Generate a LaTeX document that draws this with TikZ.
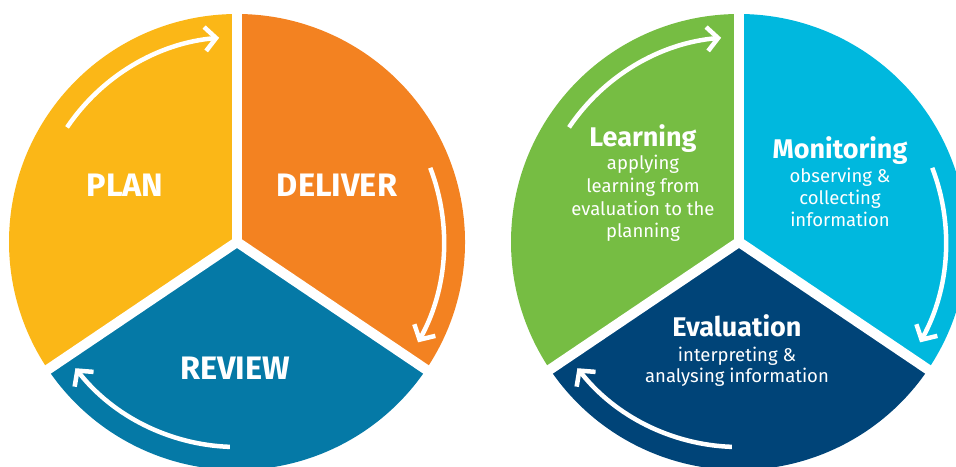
\documentclass[tikz,border=0pt]{standalone}
\usepackage{fontspec}
\setmainfont{Fira Sans}
\usetikzlibrary{arrows.meta}
\definecolor{cplan}{HTML}{FBB717}
\definecolor{cdeliver}{HTML}{F38221}
\definecolor{creview}{HTML}{0579A6}
\definecolor{clearn}{HTML}{76BD43}
\definecolor{cmonitor}{HTML}{00B8DE}
\definecolor{ceval}{HTML}{004478}
\tikzset{
  gap/.style={white, line width=10pt},
  cyc/.style={white, line width=4.5pt, -{Straight Barb[length=11pt,width=24pt,line width=4.5pt]}},
  bigtitle/.style={text=white, anchor=base, inner sep=0pt, font=\fontsize{32.5}{36}\selectfont\bfseries},
  title/.style={text=white, anchor=base, inner sep=0pt, font=\fontsize{27}{30}\selectfont\bfseries},
  sub/.style={text=white, anchor=base, inner sep=0pt, font=\fontsize{18.5}{22}\selectfont},
}
\begin{document}
\begin{tikzpicture}[x=1pt,y=1pt]
\useasboundingbox (0,0) rectangle (956,466);
\clip (0,0) rectangle (956,466);
\def\R{228}
\coordinate (c1) at (237,224);
\coordinate (c2) at (739,224);
% left circle
\fill[cplan] (c1) -- ++(90:\R) arc[start angle=90,end angle=214,radius=\R] -- cycle;
\fill[cdeliver] (c1) -- ++(-34:\R) arc[start angle=-34,end angle=90,radius=\R] -- cycle;
\fill[creview] (c1) -- ++(214:\R) arc[start angle=214,end angle=326,radius=\R] -- cycle;
\draw[gap] (c1) -- ++(90:240);
\draw[gap] (c1) -- ++(214:240);
\draw[gap] (c1) -- ++(-34:240);
\draw[cyc] ([shift={(146:205)}]c1) arc[start angle=146,end angle=95,radius=205];
\draw[cyc] ([shift={(21:207)}]c1) arc[start angle=21,end angle=-29,radius=207];
\draw[cyc] ([shift={(268:205)}]c1) arc[start angle=268,end angle=218,radius=205];
\node[bigtitle] (plan) at (125,269) {PLAN};
\node[bigtitle] (deliver) at (337,269) {DELIVER};
\node[bigtitle] (review) at (235,86) {REVIEW};
% right circle
\fill[clearn] (c2) -- ++(90:\R) arc[start angle=90,end angle=214,radius=\R] -- cycle;
\fill[cmonitor] (c2) -- ++(-34:\R) arc[start angle=-34,end angle=90,radius=\R] -- cycle;
\fill[ceval] (c2) -- ++(214:\R) arc[start angle=214,end angle=326,radius=\R] -- cycle;
\draw[gap] (c2) -- ++(90:240);
\draw[gap] (c2) -- ++(214:240);
\draw[gap] (c2) -- ++(-34:240);
\draw[cyc] ([shift={(146:205)}]c2) arc[start angle=146,end angle=95,radius=205];
\draw[cyc] ([shift={(21:207)}]c2) arc[start angle=21,end angle=-29,radius=207];
\draw[cyc] ([shift={(268:205)}]c2) arc[start angle=268,end angle=218,radius=205];
\node[title] (learn) at (643,319) {Learning};
\node[sub] (learn1) at (643,296) {applying};
\node[sub] (learn2) at (643,273) {learning from};
\node[sub] (learn3) at (643,250) {evaluation to the};
\node[sub] (learn4) at (643,228) {planning};
\node[title] (mon) at (840,307) {Monitoring};
\node[sub] (mon1) at (840,283) {observing \&};
\node[sub] (mon2) at (840,261) {collecting};
\node[sub] (mon3) at (840,239) {information};
\node[title] (eval) at (737,129) {Evaluation};
\node[sub] (eval1) at (737,104) {interpreting \&};
\node[sub] (eval2) at (737,83) {analysing information};
\end{tikzpicture}
\end{document}
